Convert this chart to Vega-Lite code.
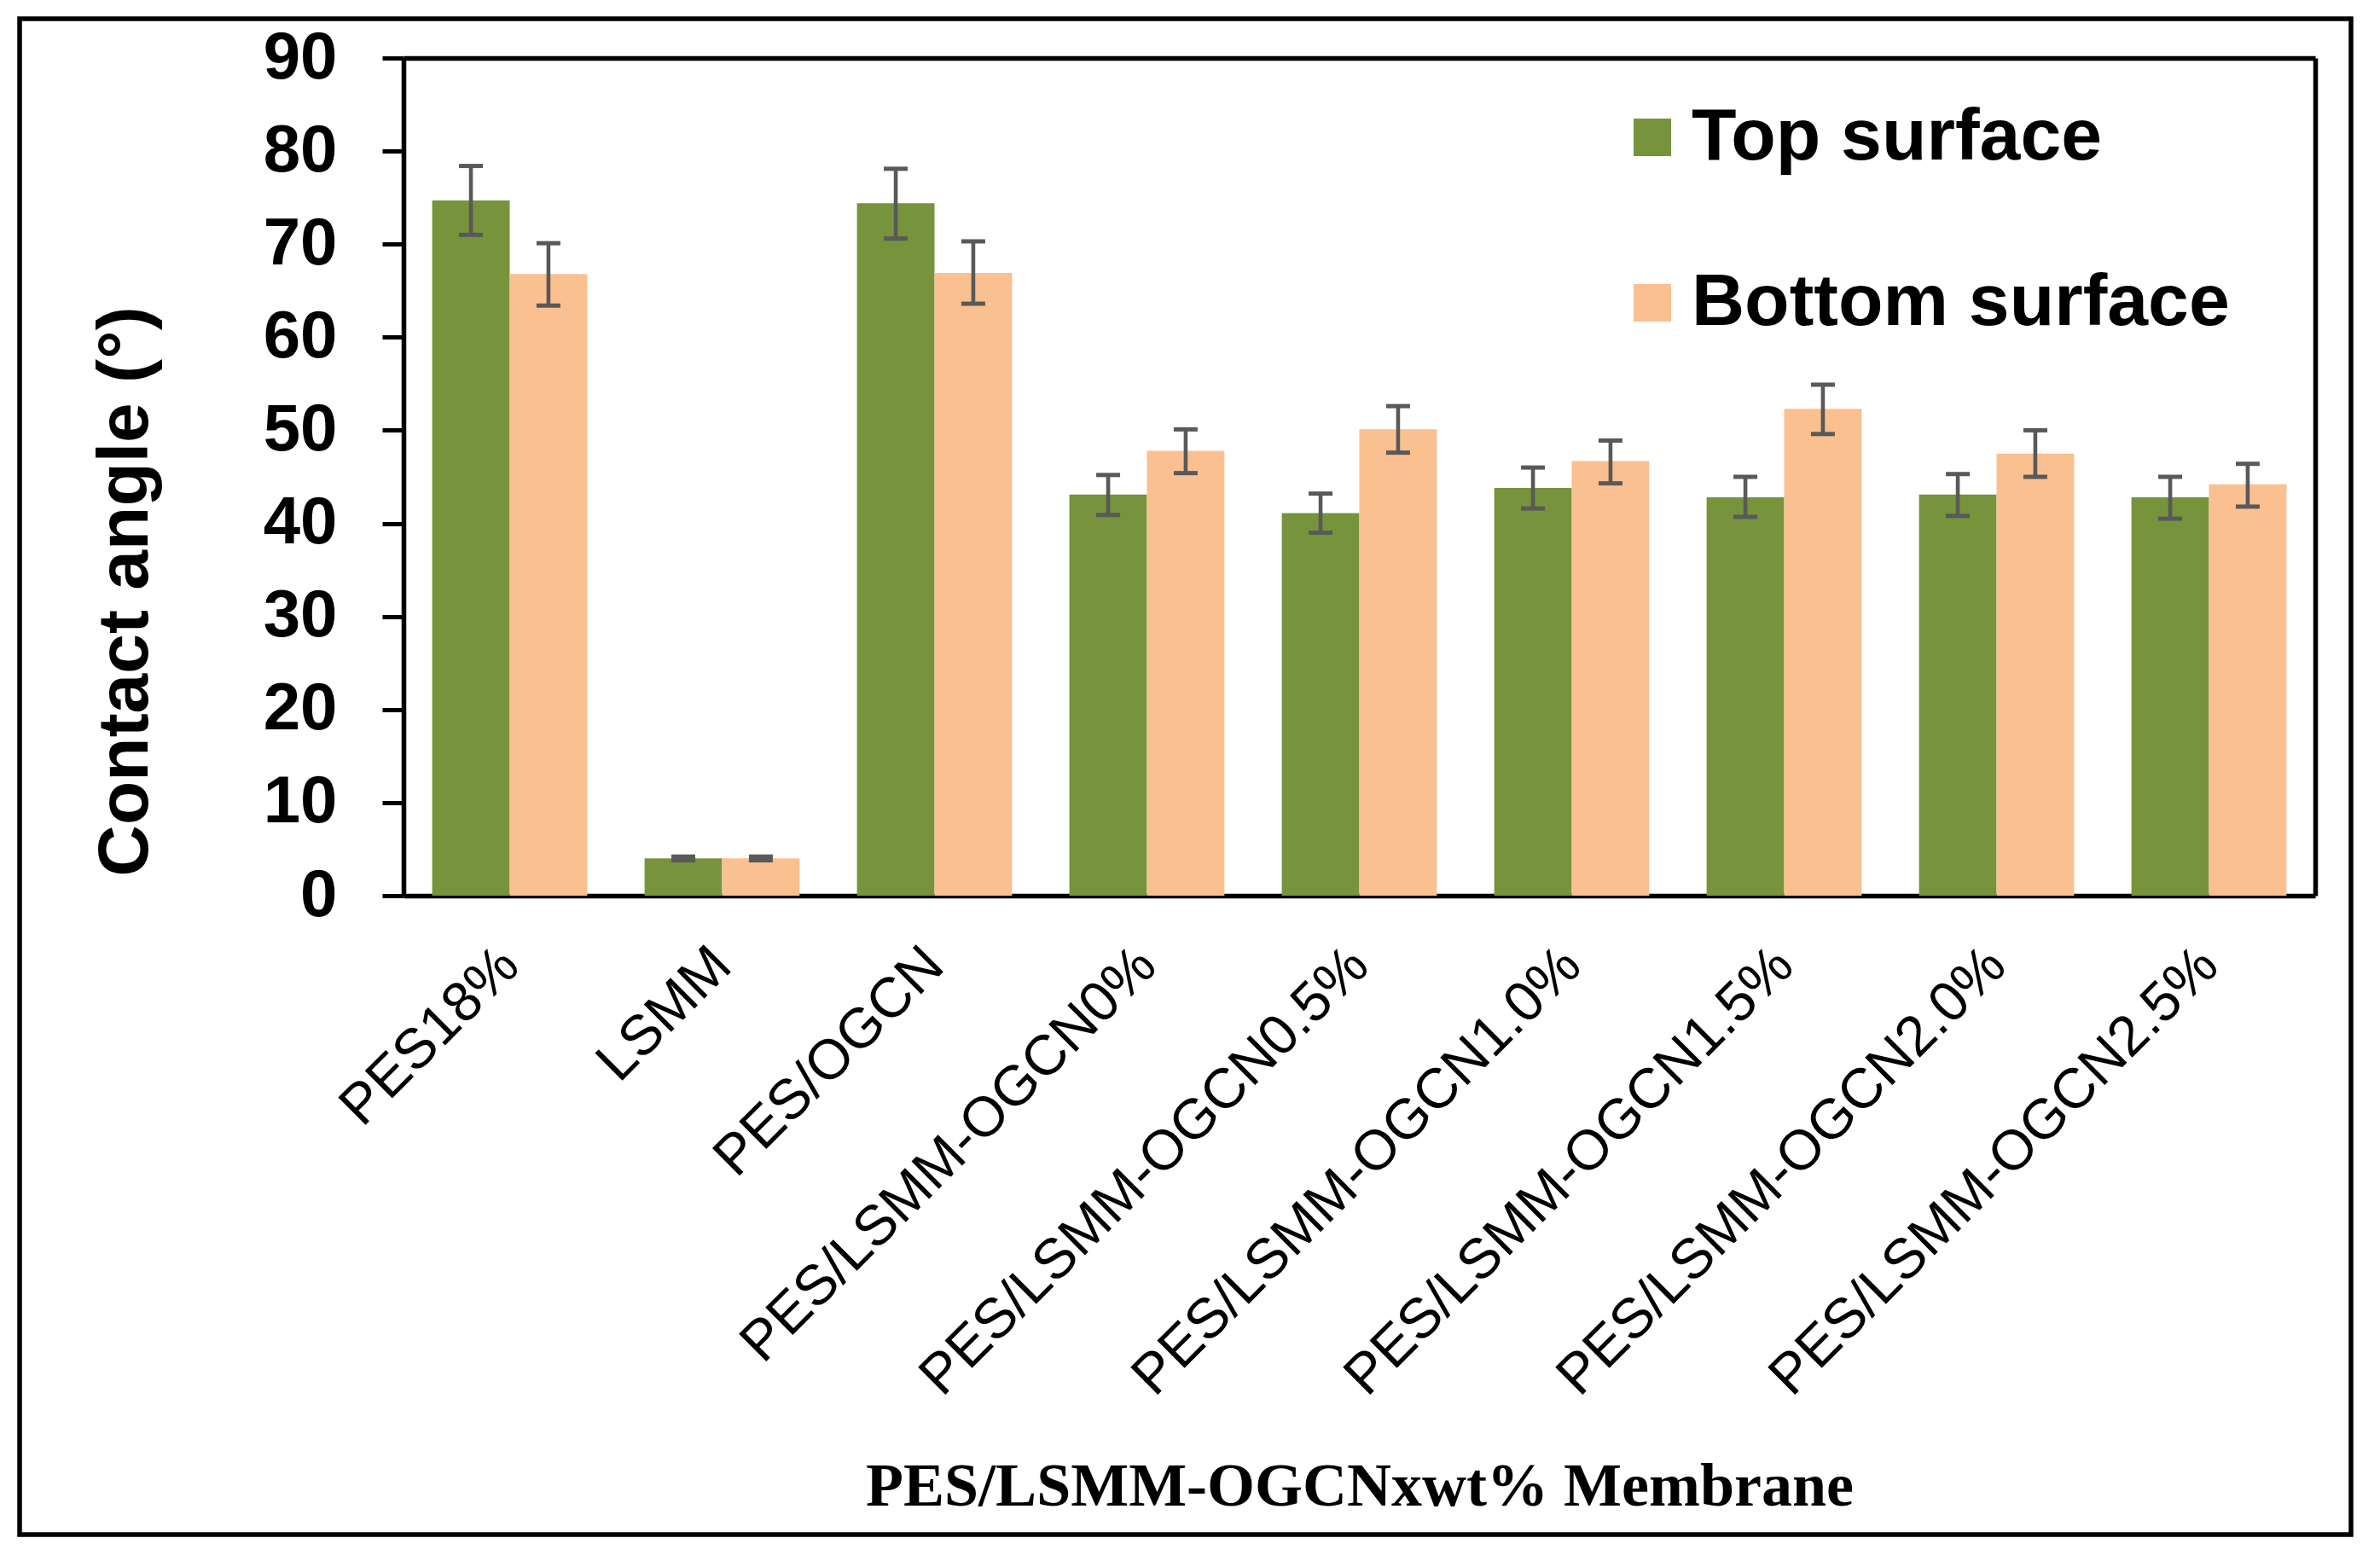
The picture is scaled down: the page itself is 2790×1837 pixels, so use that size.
{
  "$schema": "https://vega.github.io/schema/vega-lite/v6.json",
  "width": 2733,
  "height": 1777,
  "autosize": {"type": "none"},
  "padding": {"left": 23, "top": 22, "right": 34, "bottom": 38},
  "background": "white",
  "data": {
    "values": [
      {"Membrane": "PES18%", "Surface": "Top surface", "Angle": 74.7, "lo": 71.0, "hi": 78.4},
      {"Membrane": "PES18%", "Surface": "Bottom surface", "Angle": 66.8, "lo": 63.4, "hi": 70.1},
      {"Membrane": "LSMM", "Surface": "Top surface", "Angle": 4.0, "lo": 3.8, "hi": 4.2},
      {"Membrane": "LSMM", "Surface": "Bottom surface", "Angle": 4.0, "lo": 3.8, "hi": 4.2},
      {"Membrane": "PES/OGCN", "Surface": "Top surface", "Angle": 74.4, "lo": 70.6, "hi": 78.1},
      {"Membrane": "PES/OGCN", "Surface": "Bottom surface", "Angle": 66.9, "lo": 63.6, "hi": 70.3},
      {"Membrane": "PES/LSMM-OGCN0%", "Surface": "Top surface", "Angle": 43.1, "lo": 40.9, "hi": 45.2},
      {"Membrane": "PES/LSMM-OGCN0%", "Surface": "Bottom surface", "Angle": 47.8, "lo": 45.4, "hi": 50.1},
      {"Membrane": "PES/LSMM-OGCN0.5%", "Surface": "Top surface", "Angle": 41.1, "lo": 39.0, "hi": 43.2},
      {"Membrane": "PES/LSMM-OGCN0.5%", "Surface": "Bottom surface", "Angle": 50.1, "lo": 47.6, "hi": 52.6},
      {"Membrane": "PES/LSMM-OGCN1.0%", "Surface": "Top surface", "Angle": 43.8, "lo": 41.6, "hi": 46.0},
      {"Membrane": "PES/LSMM-OGCN1.0%", "Surface": "Bottom surface", "Angle": 46.7, "lo": 44.3, "hi": 48.9},
      {"Membrane": "PES/LSMM-OGCN1.5%", "Surface": "Top surface", "Angle": 42.8, "lo": 40.7, "hi": 45.0},
      {"Membrane": "PES/LSMM-OGCN1.5%", "Surface": "Bottom surface", "Angle": 52.3, "lo": 49.6, "hi": 54.9},
      {"Membrane": "PES/LSMM-OGCN2.0%", "Surface": "Top surface", "Angle": 43.1, "lo": 40.8, "hi": 45.3},
      {"Membrane": "PES/LSMM-OGCN2.0%", "Surface": "Bottom surface", "Angle": 47.5, "lo": 45.0, "hi": 50.0},
      {"Membrane": "PES/LSMM-OGCN2.5%", "Surface": "Top surface", "Angle": 42.8, "lo": 40.5, "hi": 45.0},
      {"Membrane": "PES/LSMM-OGCN2.5%", "Surface": "Bottom surface", "Angle": 44.2, "lo": 41.8, "hi": 46.4}
    ]
  },
  "layer": [
    {
      "mark": {"type": "bar"},
      "encoding": {
        "x": {
          "field": "Membrane",
          "type": "nominal",
          "scale": {
            "domain": ["PES18%", "LSMM", "PES/OGCN", "PES/LSMM-OGCN0%", "PES/LSMM-OGCN0.5%", "PES/LSMM-OGCN1.0%", "PES/LSMM-OGCN1.5%", "PES/LSMM-OGCN2.0%", "PES/LSMM-OGCN2.5%"],
            "range": [450, 2691],
            "paddingInner": 0.27,
            "paddingOuter": 0.135
          },
          "axis": {
            "orient": "bottom",
            "offset": -749,
            "title": "PES/LSMM-OGCNxwt% Membrane",
            "titleFont": "Liberation Serif",
            "titleFontWeight": "bold",
            "titleFontSize": 72,
            "titleColor": "black",
            "titleY": 714,
            "titleBaseline": "alphabetic",
            "titleLimit": 3000,
            "labelAngle": -45,
            "labelAlign": "right",
            "labelBaseline": "middle",
            "labelFont": "Liberation Sans",
            "labelFontSize": 66,
            "labelColor": "black",
            "labelPadding": 71,
            "labelLimit": 3000,
            "labelOverlap": false,
            "ticks": false,
            "tickSize": 0,
            "domainColor": "black",
            "domainWidth": 5.5
          }
        },
        "xOffset": {
          "field": "Surface",
          "type": "nominal",
          "scale": {"domain": ["Top surface", "Bottom surface"], "paddingInner": 0, "paddingOuter": 0}
        },
        "y": {
          "field": "Angle",
          "type": "quantitative",
          "scale": {"domain": [0, 90], "range": [1028, 46], "nice": false, "zero": true},
          "axis": {
            "orient": "left",
            "offset": -450,
            "values": [0, 10, 20, 30, 40, 50, 60, 70, 80, 90],
            "grid": false,
            "title": "Contact angle (°)",
            "titleFont": "Liberation Sans",
            "titleFontWeight": "bold",
            "titleFontSize": 84,
            "titleColor": "black",
            "titleAngle": -90,
            "titleAlign": "center",
            "titleBaseline": "alphabetic",
            "titleX": -301,
            "titleY": 671,
            "titleLimit": 3000,
            "labelFont": "Liberation Sans",
            "labelFontWeight": "bold",
            "labelFontSize": 78,
            "labelColor": "black",
            "labelPadding": 53,
            "tickSize": 25,
            "tickWidth": 5,
            "tickColor": "black",
            "domainColor": "black",
            "domainWidth": 5.5
          }
        },
        "color": {
          "field": "Surface",
          "type": "nominal",
          "scale": {"domain": ["Top surface", "Bottom surface"], "range": ["#77933C", "#FAC090"]},
          "legend": {
            "orient": "none",
            "legendX": 1871,
            "legendY": 96,
            "title": null,
            "padding": 0,
            "symbolType": "square",
            "symbolSize": 1936,
            "symbolStrokeWidth": 0,
            "symbolOpacity": 1,
            "labelFont": "Liberation Sans",
            "labelFontWeight": "bold",
            "labelFontSize": 86,
            "labelColor": "black",
            "labelOffset": 3,
            "labelLimit": 3000,
            "rowPadding": 108
          }
        }
      }
    },
    {
      "mark": {"type": "rule", "color": "#595959", "strokeWidth": 4.6},
      "encoding": {
        "x": {
          "field": "Membrane",
          "type": "nominal",
          "scale": {
            "domain": ["PES18%", "LSMM", "PES/OGCN", "PES/LSMM-OGCN0%", "PES/LSMM-OGCN0.5%", "PES/LSMM-OGCN1.0%", "PES/LSMM-OGCN1.5%", "PES/LSMM-OGCN2.0%", "PES/LSMM-OGCN2.5%"],
            "range": [450, 2691],
            "paddingInner": 0.27,
            "paddingOuter": 0.135
          },
          "axis": {
            "orient": "top",
            "offset": -46,
            "title": null,
            "labels": false,
            "ticks": false,
            "domainColor": "black",
            "domainWidth": 5.5
          }
        },
        "xOffset": {
          "field": "Surface",
          "type": "nominal",
          "scale": {"domain": ["Top surface", "Bottom surface"], "paddingInner": 0, "paddingOuter": 0}
        },
        "y": {
          "field": "lo",
          "type": "quantitative",
          "scale": {"domain": [0, 90], "range": [1028, 46], "nice": false, "zero": true},
          "axis": {
            "orient": "right",
            "offset": -42,
            "title": null,
            "labels": false,
            "ticks": false,
            "grid": false,
            "domainColor": "black",
            "domainWidth": 5.5
          }
        },
        "y2": {"field": "hi"}
      }
    },
    {
      "mark": {"type": "tick", "color": "#595959", "size": 28, "thickness": 5, "opacity": 1},
      "encoding": {
        "x": {
          "field": "Membrane",
          "type": "nominal",
          "scale": {
            "domain": ["PES18%", "LSMM", "PES/OGCN", "PES/LSMM-OGCN0%", "PES/LSMM-OGCN0.5%", "PES/LSMM-OGCN1.0%", "PES/LSMM-OGCN1.5%", "PES/LSMM-OGCN2.0%", "PES/LSMM-OGCN2.5%"],
            "range": [450, 2691],
            "paddingInner": 0.27,
            "paddingOuter": 0.135
          },
          "axis": null
        },
        "xOffset": {
          "field": "Surface",
          "type": "nominal",
          "scale": {"domain": ["Top surface", "Bottom surface"], "paddingInner": 0, "paddingOuter": 0}
        },
        "y": {
          "field": "hi",
          "type": "quantitative",
          "scale": {"domain": [0, 90], "range": [1028, 46], "nice": false, "zero": true},
          "axis": null
        }
      }
    },
    {
      "mark": {"type": "tick", "color": "#595959", "size": 28, "thickness": 5, "opacity": 1},
      "encoding": {
        "x": {
          "field": "Membrane",
          "type": "nominal",
          "scale": {
            "domain": ["PES18%", "LSMM", "PES/OGCN", "PES/LSMM-OGCN0%", "PES/LSMM-OGCN0.5%", "PES/LSMM-OGCN1.0%", "PES/LSMM-OGCN1.5%", "PES/LSMM-OGCN2.0%", "PES/LSMM-OGCN2.5%"],
            "range": [450, 2691],
            "paddingInner": 0.27,
            "paddingOuter": 0.135
          },
          "axis": null
        },
        "xOffset": {
          "field": "Surface",
          "type": "nominal",
          "scale": {"domain": ["Top surface", "Bottom surface"], "paddingInner": 0, "paddingOuter": 0}
        },
        "y": {
          "field": "lo",
          "type": "quantitative",
          "scale": {"domain": [0, 90], "range": [1028, 46], "nice": false, "zero": true},
          "axis": null
        }
      }
    }
  ],
  "resolve": {"axis": {"x": "independent", "y": "independent"}},
  "config": {
    "view": {"stroke": "black", "strokeWidth": 5.5, "fill": "white"},
    "axis": {"grid": false}
  }
}
